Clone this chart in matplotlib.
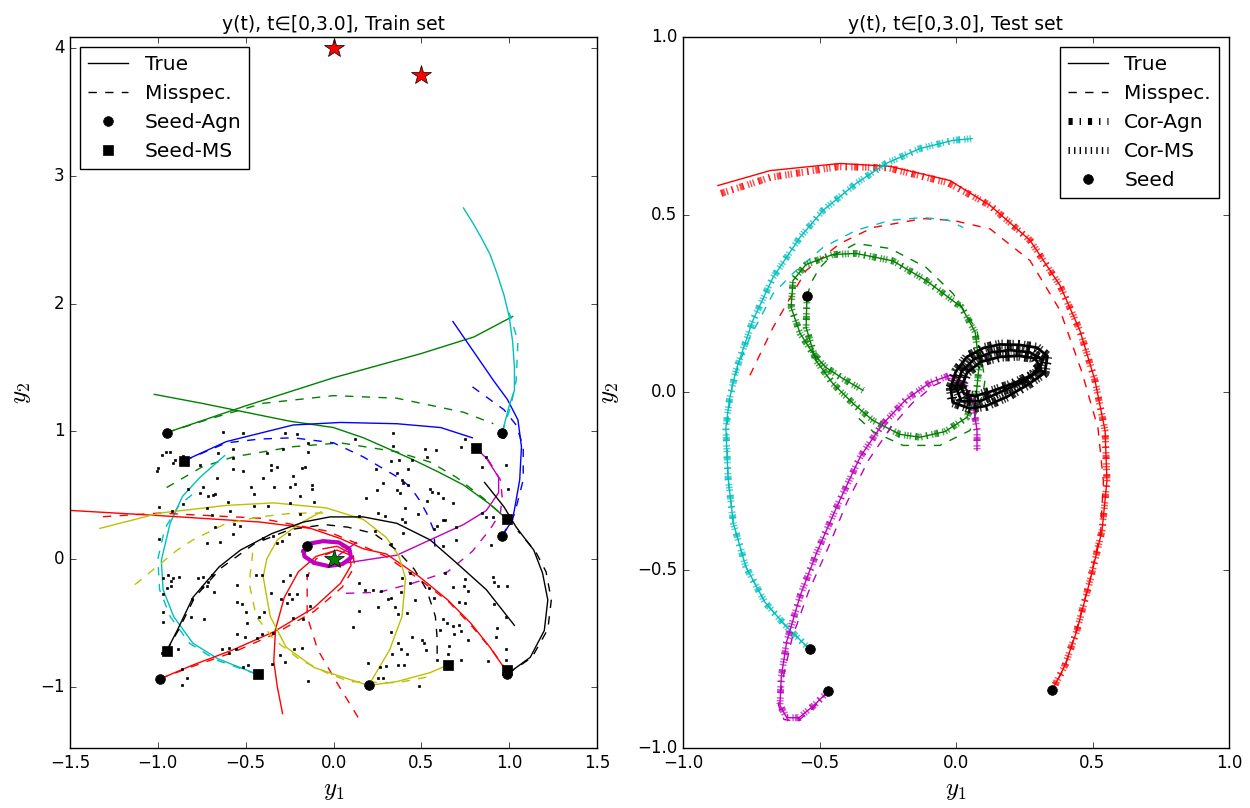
import numpy as np
import matplotlib
matplotlib.use("Agg")
import matplotlib.pyplot as plt
from matplotlib.lines import Line2D

# ---------------- train set trajectories (y1, y2) ----------------
train_g_true_a = [(-0.95, 0.99), (-0.5, 1.2), (0.0, 1.42), (0.5, 1.61), (0.8, 1.74), (1.02, 1.90)]
train_g_true_b = [(-1.02, 1.29), (-0.75, 1.22), (-0.5, 1.15), (-0.25, 1.08), (0.0, 1.03), (0.17, 0.95),
                  (0.45, 0.78), (0.60, 0.68), (0.74, 0.58), (0.88, 0.44), (0.99, 0.31)]
train_g_mis_a = [(-0.95, 0.99), (-0.7, 1.10), (-0.4, 1.22), (0.0, 1.28), (0.36, 1.26), (0.74, 1.15), (0.91, 1.06)]
train_g_mis_b = [(-0.95, 0.56), (-0.75, 0.72), (-0.57, 0.80), (-0.23, 0.88), (0.04, 0.91), (0.36, 0.84),
                 (0.55, 0.76), (0.70, 0.64), (0.85, 0.48), (0.99, 0.31)]

train_b_true_a = [(-0.85, 0.77), (-0.61, 0.92), (-0.23, 1.05), (0.04, 1.07), (0.36, 1.06), (0.61, 1.03), (0.79, 0.95)]
train_b_mis_a = [(-0.85, 0.77), (-0.61, 0.91), (-0.42, 0.94), (-0.23, 0.95), (0.0, 0.91), (0.17, 0.80),
                 (0.28, 0.71), (0.38, 0.63), (0.44, 0.56), (0.49, 0.46), (0.53, 0.36), (0.57, 0.23), (0.58, 0.05)]
train_b_true_b = [(0.96, 0.18), (1.02, 0.31), (1.06, 0.62), (1.07, 0.88), (1.05, 1.09), (0.99, 1.25),
                  (0.91, 1.40), (0.80, 1.62), (0.68, 1.86)]
train_b_mis_b = [(0.96, 0.18), (1.03, 0.35), (1.08, 0.62), (1.08, 0.88), (1.04, 1.05), (0.97, 1.17),
                 (0.87, 1.27), (0.78, 1.36)]

train_c_true_a = [(-0.44, -0.90), (-0.66, -0.78), (-0.80, -0.66), (-0.91, -0.45), (-0.97, -0.24), (-0.98, -0.01),
                  (-0.93, 0.28), (-0.86, 0.49), (-0.76, 0.64), (-0.62, 0.81)]
train_c_mis_a = [(-0.44, -0.90), (-0.67, -0.79), (-0.82, -0.66), (-0.93, -0.45), (-0.99, -0.24), (-1.00, 0.0),
                 (-0.96, 0.24), (-0.88, 0.42), (-0.80, 0.51)]
train_c_true_b = [(0.96, 0.99), (1.00, 1.20), (1.03, 1.32), (1.03, 1.50), (1.02, 1.70), (1.00, 1.90), (0.97, 2.07),
                  (0.93, 2.24), (0.89, 2.39), (0.84, 2.52), (0.79, 2.64), (0.74, 2.75)]
train_c_mis_b = [(0.96, 0.99), (1.01, 1.20), (1.04, 1.40), (1.05, 1.71), (1.00, 1.93)]

train_m_true_a = [(0.81, 0.87), (0.87, 0.79), (0.94, 0.64), (0.94, 0.52), (0.87, 0.38), (0.74, 0.27),
                  (0.55, 0.15), (0.36, 0.03), (0.17, -0.01), (-0.02, -0.05)]
train_m_mis_a = [(0.81, 0.87), (0.88, 0.78), (0.95, 0.62), (0.96, 0.49), (0.95, 0.36), (0.89, 0.23),
                 (0.79, 0.06), (0.65, -0.10), (0.45, -0.19), (0.26, -0.26), (0.04, -0.27)]
train_m_loop = [(-0.17, 0.06), (-0.14, 0.12), (-0.06, 0.14), (0.03, 0.13), (0.09, 0.08), (0.10, 0.01),
                (0.05, -0.04), (-0.03, -0.055), (-0.11, -0.03), (-0.165, 0.02), (-0.17, 0.06)]
train_m_stub = [(0.03, 0.03), (0.13, 0.13)]

train_r_true_a = [(-1.55, 0.385), (-0.99, 0.34), (-0.42, 0.29), (-0.13, 0.24), (0.04, 0.16), (0.17, 0.08),
                  (0.30, 0.04), (0.49, -0.14), (0.65, -0.32), (0.78, -0.50), (0.89, -0.69), (0.97, -0.85), (0.99, -0.88)]
train_r_mis_a = [(0.99, -0.88), (0.90, -0.71), (0.79, -0.53), (0.66, -0.34), (0.49, -0.16), (0.30, 0.02),
                 (0.12, 0.13), (-0.04, 0.22), (-0.42, 0.32), (-0.99, 0.36), (-1.33, 0.33)]
train_r_true_b = [(-0.99, -0.94), (-0.80, -0.83), (-0.57, -0.71), (-0.34, -0.57), (-0.11, -0.38), (0.04, -0.19),
                  (0.10, -0.05), (0.09, 0.05), (0.02, 0.10), (-0.06, 0.08)]
train_r_mis_b = [(-0.99, -0.94), (-0.80, -0.84), (-0.57, -0.73), (-0.34, -0.59), (-0.11, -0.41), (0.05, -0.22),
                 (0.12, -0.06), (0.11, 0.06), (0.03, 0.11)]
train_r_true_c = [(-0.29, -1.21), (-0.32, -1.00), (-0.34, -0.80), (-0.33, -0.55), (-0.28, -0.30), (-0.20, -0.10),
                  (-0.10, 0.02), (0.02, 0.07), (0.10, 0.03)]
train_r_mis_c = [(0.14, -1.24), (0.02, -0.97), (-0.09, -0.71), (-0.15, -0.45), (-0.15, -0.14), (-0.10, 0.0), (0.0, 0.06)]

train_y_true_a = [(-1.33, 0.24), (-0.99, 0.36), (-0.61, 0.42), (-0.34, 0.44), (-0.04, 0.40), (0.17, 0.31),
                  (0.30, 0.17), (0.37, 0.03), (0.41, -0.15), (0.39, -0.45), (0.32, -0.71), (0.20, -0.99)]
train_y_true_b = [(0.20, -0.99), (0.36, -0.96), (0.55, -0.89), (0.65, -0.83)]
train_y_true_c = [(-0.07, 0.37), (-0.19, 0.28), (-0.32, 0.15), (-0.38, 0.0), (-0.40, -0.14), (-0.38, -0.30),
                  (-0.36, -0.45), (-0.27, -0.69), (-0.11, -0.85), (0.04, -0.92), (0.20, -0.99)]
train_y_mis_a = [(-1.13, -0.20), (-0.89, 0.07), (-0.80, 0.15), (-0.61, 0.28), (-0.42, 0.33), (-0.23, 0.36), (-0.04, 0.36)]
train_y_mis_b = [(-0.46, 0.05), (-0.48, -0.19), (-0.44, -0.45), (-0.34, -0.63), (-0.19, -0.79), (-0.04, -0.89),
                 (0.09, -0.96), (0.36, -0.97), (0.55, -0.92)]

train_k_true_a = [(-0.95, -0.72), (-0.89, -0.56), (-0.80, -0.30), (-0.65, -0.06), (-0.53, 0.07), (-0.35, 0.20),
                  (-0.17, 0.29), (-0.02, 0.33), (0.17, 0.33), (0.36, 0.28), (0.55, 0.15), (0.70, -0.03),
                  (0.87, -0.24), (1.03, -0.52)]
train_k_mis_a = [(-0.95, -0.72), (-0.88, -0.55), (-0.79, -0.30), (-0.64, -0.07), (-0.45, 0.12), (-0.25, 0.23),
                 (-0.05, 0.27), (0.08, 0.25), (0.23, 0.20), (0.36, 0.07), (0.46, -0.08), (0.53, -0.24),
                 (0.58, -0.45), (0.59, -0.62), (0.59, -0.80)]
train_k_true_b = [(0.99, -0.90), (1.12, -0.77), (1.20, -0.56), (1.22, -0.32), (1.19, -0.11), (1.14, 0.07),
                  (1.04, 0.25), (0.97, 0.41), (0.86, 0.60)]
train_k_mis_b = [(0.99, -0.90), (1.13, -0.77), (1.22, -0.55), (1.24, -0.32), (1.21, -0.10), (1.15, 0.06), (1.05, 0.22)]

seed_agn_train = [(-0.95, 0.99), (0.96, 0.99), (0.96, 0.18), (-0.99, -0.94), (0.20, -0.99), (0.99, -0.90), (-0.15, 0.10)]
seed_ms_train = [(-0.85, 0.77), (0.81, 0.87), (0.99, 0.31), (-0.95, -0.72), (-0.43, -0.90), (0.65, -0.83), (0.99, -0.87)]
red_stars = [(0.0, 4.0), (0.5, 3.79)]
green_star = [(0.0, 0.0)]

# training samples
train_points = [
    (-0.627, 0.992), (-0.513, 0.99), (-0.276, 0.99), (-0.206, 0.976), (-0.143, 0.906), (-0.143, 0.84),
    (-0.978, 0.814), (-0.953, 0.84), (-0.93, 0.84), (-0.902, 0.775), (-0.912, 0.749), (-0.855, 0.807),
    (-0.57, 0.861), (-0.38, 0.832), (-0.289, 0.859), (-0.656, 0.828), (-0.57, 0.788), (-0.76, 0.736),
    (-0.997, 0.71), (-1.003, 0.69), (-0.57, 0.702), (-0.517, 0.687), (-0.357, 0.734), (-0.323, 0.723),
    (-0.357, 0.697), (-0.181, 0.71), (-0.162, 0.723), (-0.229, 0.652), (-0.4, 0.637), (-0.665, 0.637),
    (-0.826, 0.548), (-0.741, 0.566), (-0.76, 0.519), (-0.713, 0.493), (-0.688, 0.501), (-0.674, 0.507),
    (-0.471, 0.566), (-0.45, 0.509), (-0.337, 0.566), (-0.248, 0.566), (-0.219, 0.587), (-0.124, 0.579),
    (-0.124, 0.546), (-0.191, 0.493), (-0.111, 0.444), (-0.991, 0.41), (-0.855, 0.428), (-0.921, 0.378),
    (-0.722, 0.402), (-0.599, 0.444), (-0.45, 0.417), (-0.371, 0.417), (-0.248, 0.436), (-0.191, 0.352),
    (-0.692, 0.345), (-0.589, 0.378), (-0.566, 0.274), (-0.532, 0.261), (-0.674, 0.253), (-0.57, 0.193),
    (-0.4, 0.162), (-0.343, 0.182), (-0.255, 0.196), (-0.991, 0.154), (-0.722, 0.128), (-0.646, 0.135),
    (-0.323, 0.128), (-0.295, 0.143),
    (0.337, 0.984), (0.122, 0.94), (0.34, 0.885), (0.521, 0.861), (0.583, 0.854), (0.53, 0.796),
    (0.325, 0.765), (0.373, 0.775), (0.426, 0.702), (0.445, 0.775), (0.242, 0.702), (0.36, 0.676),
    (0.388, 0.619), (0.397, 0.593), (0.426, 0.579), (0.28, 0.598), (0.246, 0.54), (0.36, 0.54),
    (0.378, 0.519), (0.549, 0.548), (0.559, 0.527), (0.597, 0.514), (0.625, 0.475), (0.53, 0.457),
    (0.678, 0.441), (0.185, 0.475), (0.407, 0.402), (0.255, 0.363), (0.293, 0.337), (0.483, 0.35),
    (0.388, 0.311), (0.407, 0.287), (0.621, 0.305), (0.635, 0.305), (0.587, 0.258), (0.697, 0.253),
    (0.572, 0.232), (0.394, 0.201), (0.697, 0.149), (0.625, 0.104), (0.325, 0.115), (0.843, 0.718),
    (0.982, 0.734), (0.995, 0.548), (0.868, 0.796), (0.726, 0.879), (0.748, 0.937), (0.843, 0.363),
    (0.868, 0.326), (0.91, 0.331), (0.895, 0.11), (0.147, 0.337), (0.236, 0.219), (0.966, 0.958),
    (-0.972, -0.146), (-0.94, -0.125), (-0.927, -0.17), (-0.912, -0.146), (-0.878, -0.139), (-0.949, -0.23),
    (-0.927, -0.209), (-0.969, -0.274), (-0.773, -0.146), (-0.741, -0.139), (-0.75, -0.217), (-0.722, -0.211),
    (-0.713, -0.178), (-0.693, -0.125), (-0.68, -0.256), (-0.807, -0.316), (-0.972, -0.413), (-0.969, -0.491),
    (-0.811, -0.452), (-0.735, -0.47), (-0.551, -0.204), (-0.551, -0.339), (-0.522, -0.352), (-0.5, -0.413),
    (-0.494, -0.499), (-0.424, -0.452), (-0.396, -0.413), (-0.547, -0.59), (-0.504, -0.613), (-0.437, -0.619),
    (-0.405, -0.59), (-0.441, -0.125), (-0.405, -0.125), (-0.357, -0.269), (-0.301, -0.316), (-0.255, -0.274),
    (-0.234, -0.316), (-0.206, -0.274), (-0.266, -0.347), (-0.286, -0.17), (-0.248, -0.125), (-0.149, -0.125),
    (-0.134, -0.366), (-0.175, -0.47), (-0.229, -0.465), (-0.178, -0.694), (-0.223, -0.707), (-0.304, -0.752),
    (-0.276, -0.809), (-0.352, -0.825), (-0.633, -0.707), (-0.593, -0.699), (-0.557, -0.707), (-0.593, -0.738),
    (-0.517, -0.848), (-0.485, -0.83), (-0.861, -0.864), (-0.836, -0.934), (-0.861, -0.987), (-0.887, -0.705),
    (-0.978, -0.733), (-0.143, -0.953), (-0.346, -0.582),
    (0.147, -0.19), (0.179, -0.243), (0.227, -0.243), (0.269, -0.251), (0.388, -0.151), (0.435, -0.19),
    (0.384, -0.261), (0.325, -0.303), (0.312, -0.316), (0.255, -0.373), (0.147, -0.405), (0.35, -0.379),
    (0.416, -0.42), (0.365, -0.433), (0.464, -0.321), (0.572, -0.303), (0.544, -0.23), (0.113, -0.535),
    (0.325, -0.572), (0.445, -0.613), (0.502, -0.634), (0.517, -0.655), (0.525, -0.713), (0.369, -0.655),
    (0.384, -0.707), (0.416, -0.746), (0.331, -0.744), (0.198, -0.817), (0.265, -0.848), (0.299, -0.838),
    (0.365, -0.83), (0.403, -0.83), (0.255, -0.934), (0.283, -0.934), (0.487, -0.992), (0.625, -0.467),
    (0.644, -0.504), (0.606, -0.556), (0.678, -0.525), (0.686, -0.587), (0.716, -0.519), (0.724, -0.561),
    (0.767, -0.634), (0.659, -0.681), (0.653, -0.744), (0.724, -0.791), (0.587, -0.791), (0.881, -0.796),
    (0.929, -0.543), (0.925, -0.613), (0.982, -0.707), (0.98, -0.791), (0.906, -0.139), (0.915, -0.178),
    (0.935, -0.209), (0.989, -0.209), (0.748, -0.159), (0.743, -0.209), (0.767, -0.251), (0.678, -0.217),
    (0.714, -0.339), (0.748, -0.347), (0.913, -0.355), (0.982, -0.452), (0.635, -0.107), (0.435, -0.107),
]

# ---------------- test set trajectories ----------------
test_r_true = [(-0.872, 0.582), (-0.681, 0.624), (-0.425, 0.644), (-0.242, 0.636), (-0.022, 0.596), (0.125, 0.526),
               (0.271, 0.428), (0.381, 0.301), (0.454, 0.174), (0.509, 0.034), (0.546, -0.107), (0.553, -0.248),
               (0.535, -0.388), (0.491, -0.529), (0.443, -0.669), (0.399, -0.768), (0.352, -0.838)]
test_r_cor = [(-0.86, 0.56), (-0.68, 0.605), (-0.43, 0.635), (-0.25, 0.632), (-0.03, 0.59), (0.125, 0.526),
              (0.271, 0.428), (0.381, 0.301), (0.454, 0.174), (0.509, 0.034), (0.546, -0.107), (0.553, -0.248),
              (0.535, -0.388), (0.491, -0.529), (0.443, -0.669), (0.399, -0.768), (0.352, -0.838)]
test_r_mis = [(-0.755, 0.048), (-0.67, 0.183), (-0.549, 0.343), (-0.425, 0.419), (-0.304, 0.464), (-0.121, 0.489),
              (-0.011, 0.484), (0.125, 0.46), (0.271, 0.371), (0.381, 0.231), (0.46, 0.06), (0.52, -0.10),
              (0.54, -0.25), (0.53, -0.39), (0.49, -0.53), (0.44, -0.67), (0.40, -0.77), (0.352, -0.838)]

test_c_true = [(-0.535, -0.723), (-0.62, -0.66), (-0.70, -0.59), (-0.77, -0.49), (-0.815, -0.37), (-0.835, -0.24),
               (-0.843, -0.10), (-0.83, -0.02), (-0.806, 0.062), (-0.744, 0.203), (-0.67, 0.324), (-0.571, 0.437),
               (-0.487, 0.512), (-0.366, 0.588), (-0.256, 0.644), (-0.132, 0.686), (-0.011, 0.709), (0.059, 0.714)]
test_c_mis = [(-0.535, -0.723), (-0.62, -0.66), (-0.70, -0.59), (-0.77, -0.49), (-0.815, -0.37), (-0.835, -0.24),
              (-0.84, -0.10), (-0.82, 0.02), (-0.79, 0.09), (-0.755, 0.155), (-0.67, 0.278), (-0.597, 0.335),
              (-0.487, 0.408), (-0.366, 0.456), (-0.242, 0.484), (-0.121, 0.492), (-0.03, 0.485), (0.026, 0.464)]

test_g_true = [(-0.546, 0.27), (-0.549, 0.183), (-0.513, 0.09), (-0.451, 0.025), (-0.377, -0.031), (-0.304, -0.079),
               (-0.205, -0.118), (-0.132, -0.126), (-0.04, -0.11), (0.04, -0.07), (0.075, 0.0), (0.085, 0.08),
               (0.07, 0.17), (0.02, 0.24), (-0.11, 0.315), (-0.231, 0.37), (-0.366, 0.391), (-0.451, 0.388),
               (-0.549, 0.36), (-0.597, 0.315), (-0.604, 0.239), (-0.571, 0.166), (-0.524, 0.110),
               (-0.476, 0.070), (-0.414, 0.039), (-0.341, 0.006)]
test_g_mis = [(-0.546, 0.27), (-0.53, 0.31), (-0.50, 0.35), (-0.462, 0.380), (-0.366, 0.419), (-0.242, 0.405),
              (-0.11, 0.352), (-0.011, 0.278), (0.077, 0.174), (0.106, 0.034), (0.099, -0.003), (0.051, -0.107),
              (-0.059, -0.149), (-0.194, -0.149), (-0.304, -0.11), (-0.36, -0.07)]

test_m_true = [(-0.469, -0.841), (-0.52, -0.88), (-0.575, -0.915), (-0.62, -0.915), (-0.645, -0.88), (-0.64, -0.80),
               (-0.62, -0.70), (-0.57, -0.57), (-0.51, -0.45), (-0.43, -0.31), (-0.35, -0.18), (-0.27, -0.09),
               (-0.183, -0.02), (-0.095, 0.028), (-0.022, 0.048), (0.026, 0.028), (0.062, -0.031),
               (0.077, -0.107), (0.077, -0.163)]
test_m_mis = [(-0.469, -0.841), (-0.52, -0.885), (-0.58, -0.925), (-0.63, -0.92), (-0.65, -0.88), (-0.63, -0.79),
              (-0.60, -0.69), (-0.54, -0.56), (-0.47, -0.44), (-0.40, -0.31), (-0.32, -0.19), (-0.24, -0.10),
              (-0.16, -0.03), (-0.08, 0.02), (-0.02, 0.04)]

# black limit cycle: outer edge, centre line and inner edge of the sampled band
test_k_outer = [(-0.02, 0.014), (0.0, 0.06), (0.04, 0.10), (0.10, 0.125), (0.161, 0.135), (0.23, 0.134),
                (0.297, 0.126), (0.335, 0.102), (0.325, 0.055), (0.26, 0.02), (0.187, -0.012), (0.11, -0.038),
                (0.05, -0.045), (-0.012, -0.028), (-0.02, 0.014)]
test_k_mid = [(0.0, 0.014), (0.02, 0.058), (0.065, 0.093), (0.13, 0.113), (0.2, 0.119), (0.27, 0.113),
              (0.318, 0.092), (0.305, 0.062), (0.245, 0.03), (0.16, 0.0), (0.09, -0.024), (0.02, -0.025),
              (0.0, 0.014)]
test_k_inner = [(0.02, 0.014), (0.04, 0.055), (0.09, 0.086), (0.161, 0.100), (0.23, 0.103), (0.29, 0.096),
                (0.305, 0.075), (0.28, 0.05), (0.21, 0.025), (0.125, 0.002), (0.07, -0.01), (0.03, -0.005),
                (0.02, 0.014)]

seed_test = [(-0.546, 0.27), (-0.535, -0.723), (-0.469, -0.841), (0.352, -0.838)]


def xy(points):
    a = np.asarray(points, dtype=float)
    return a[:, 0], a[:, 1]


plt.style.use("classic")
plt.rcParams.update({
    "figure.facecolor": "white",
    "savefig.facecolor": "white",
    "legend.numpoints": 1,
    "mathtext.fontset": "cm",
    "font.size": 12,
    "lines.scale_dashes": False,
})

fig = plt.figure(figsize=(12.5, 8.08), dpi=100)
ax1 = fig.add_axes([0.056, 0.0743, 0.4216, 0.88])
ax2 = fig.add_axes([0.5464, 0.0743, 0.4368, 0.88])

# ---- train panel ----
train_curves = [
    ("g", [train_g_true_a, train_g_true_b], [train_g_mis_a, train_g_mis_b]),
    ("b", [train_b_true_a, train_b_true_b], [train_b_mis_a, train_b_mis_b]),
    ("c", [train_c_true_a, train_c_true_b], [train_c_mis_a, train_c_mis_b]),
    ("m", [train_m_true_a, train_m_stub], [train_m_mis_a]),
    ("r", [train_r_true_a, train_r_true_b, train_r_true_c], [train_r_mis_a, train_r_mis_b, train_r_mis_c]),
    ("y", [train_y_true_a, train_y_true_b, train_y_true_c], [train_y_mis_a, train_y_mis_b]),
    ("k", [train_k_true_a, train_k_true_b], [train_k_mis_a, train_k_mis_b]),
]
for color, trues, miss in train_curves:
    for seg in trues:
        ax1.plot(*xy(seg), color=color, lw=1.0, ls="-")
    for seg in miss:
        ax1.plot(*xy(seg), color=color, lw=1.0, ls="--")
ax1.plot(*xy(train_m_loop), color="m", lw=3.0)

ax1.plot(*xy(train_points), ls="none", marker="s", ms=2, mfc="k", mec="k")
ax1.plot(*xy(seed_agn_train), ls="none", marker="o", ms=7, mfc="k", mec="k")
ax1.plot(*xy(seed_ms_train), ls="none", marker="s", ms=7, mfc="k", mec="k")
ax1.plot(*xy(red_stars), ls="none", marker="*", ms=15, mfc="r", mec="k", mew=0.5)
ax1.plot(*xy(green_star), ls="none", marker="*", ms=15, mfc="g", mec="k", mew=0.5)

ax1.set_xlim(-1.5, 1.5)
ax1.set_ylim(-1.48, 4.09)
ax1.set_xticks([-1.5, -1.0, -0.5, 0.0, 0.5, 1.0, 1.5])
ax1.set_yticks([-1, 0, 1, 2, 3, 4])
ax1.set_title("y(t), t\u2208[0,3.0], Train set", fontsize=13.5)
ax1.set_xlabel("$y_1$", fontsize=18)
ax1.set_ylabel("$y_2$", fontsize=18)

h1 = [Line2D([], [], color="k", ls="-"),
      Line2D([], [], color="k", ls="--"),
      Line2D([], [], color="k", ls="none", marker="o", ms=7),
      Line2D([], [], color="k", ls="none", marker="s", ms=7)]
ax1.legend(h1, ["True", "Misspec.", "Seed-Agn", "Seed-MS"], loc="upper left", fontsize=14.5)

# ---- test panel ----
test_curves = [
    ("r", test_r_true, test_r_mis, test_r_cor),
    ("c", test_c_true, test_c_mis, test_c_true),
    ("g", test_g_true, test_g_mis, test_g_true),
    ("m", test_m_true, test_m_mis, test_m_true),
]
for color, true_pts, mis_pts, cor_pts in test_curves:
    ax2.plot(*xy(true_pts), color=color, lw=1.0, ls="-")
    ax2.plot(*xy(mis_pts), color=color, lw=1.0, ls="--")
    ax2.plot(*xy(cor_pts), color=color, lw=5, ls="-.", alpha=0.7)
    ax2.plot(*xy(cor_pts), color=color, lw=5, ls=":", alpha=0.7)

for loop in (test_k_outer, test_k_mid, test_k_inner):
    ax2.plot(*xy(loop), color="k", lw=2.0)
    ax2.plot(*xy(loop), color="k", lw=7, ls="-.", alpha=0.8)
    ax2.plot(*xy(loop), color="k", lw=7, ls=":", alpha=0.8)

ax2.plot(*xy(seed_test), ls="none", marker="o", ms=7, mfc="k", mec="k")

ax2.set_xlim(-1.0, 1.0)
ax2.set_ylim(-1.0, 1.0)
ax2.set_xticks([-1.0, -0.5, 0.0, 0.5, 1.0])
ax2.set_yticks([-1.0, -0.5, 0.0, 0.5, 1.0])
ax2.set_title("y(t), t\u2208[0,3.0], Test set", fontsize=13.5)
ax2.set_xlabel("$y_1$", fontsize=18)
ax2.set_ylabel("$y_2$", fontsize=18, labelpad=12)

h2 = [Line2D([], [], color="k", ls="-"),
      Line2D([], [], color="k", ls="--"),
      Line2D([], [], color="k", ls="-.", lw=5),
      Line2D([], [], color="k", ls=":", lw=5),
      Line2D([], [], color="k", ls="none", marker="o", ms=7)]
ax2.legend(h2, ["True", "Misspec.", "Cor-Agn", "Cor-MS", "Seed"], loc="upper right", fontsize=14.5)

for ax in (ax1, ax2):
    ax.tick_params(labelsize=12)

fig.savefig("out.png", dpi=100)
